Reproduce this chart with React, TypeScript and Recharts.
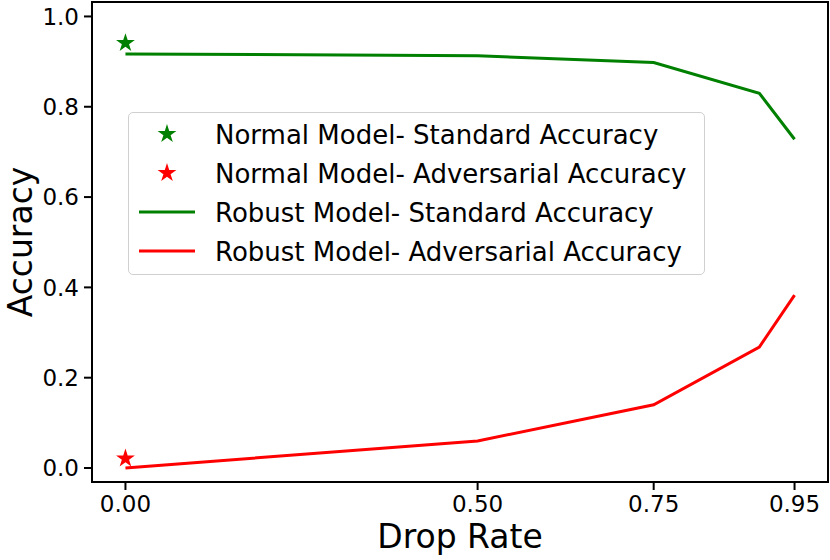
import { ComposedChart, Line, Scatter, XAxis, YAxis, Symbols, ReferenceArea } from 'recharts';

// drop rates shared by both robust-model curves
const dropRates = [0, 0.5, 0.75, 0.9, 0.95];
const robustStandard = [0.917, 0.913, 0.898, 0.83, 0.728];
const robustAdversarial = [0.0, 0.06, 0.14, 0.268, 0.383];

// normal model is a single point at drop rate 0
const normalStandard = [{ x: 0, y: 0.941 }];
const normalAdversarial = [{ x: 0, y: 0.021 }];

const xTicks = [0, 0.5, 0.75, 0.95];
const yTicks = [0, 0.2, 0.4, 0.6, 0.8, 1.0];
const xDomain = [-0.0475, 0.9975];
const yDomain = [-0.031, 1.032];

const legendItems = [
  { label: 'Normal Model- Standard Accuracy', color: '#008000', kind: 'star' },
  { label: 'Normal Model- Adversarial Accuracy', color: '#ff0000', kind: 'star' },
  { label: 'Robust Model- Standard Accuracy', color: '#008000', kind: 'line' },
  { label: 'Robust Model- Adversarial Accuracy', color: '#ff0000', kind: 'line' },
];

const font = 'DejaVu Sans, sans-serif';

const standardData = dropRates.map((x, i) => ({ x, y: robustStandard[i] }));
const adversarialData = dropRates.map((x, i) => ({ x, y: robustAdversarial[i] }));

const StarShape = (props: any) => (
  <Symbols cx={props.cx} cy={props.cy} type="star" size={110} fill={props.fill} />
);

const YLabel = (props: any) => {
  const vb = props.viewBox || {};
  const cy = (vb.y ?? 0) + (vb.height ?? 0) / 2;
  return (
    <text x={20} y={cy} transform={`rotate(-90 20 ${cy})`} textAnchor="middle" dominantBaseline="central"
      fontSize={33} fontFamily={font} fill="#000">
      Accuracy
    </text>
  );
};

function LegendBox() {
  return (
    <div
      style={{
        position: 'absolute',
        left: 128,
        top: 112,
        width: 577,
        height: 163,
        border: '1.5px solid #d0d0d0',
        borderRadius: 5,
        background: 'rgba(255,255,255,0.8)',
        fontFamily: font,
        fontSize: 26,
        color: '#000',
        boxSizing: 'border-box',
        paddingTop: 2,
      }}
    >
      {legendItems.map((it) => (
        <div key={it.label} style={{ display: 'flex', alignItems: 'center', height: 39 }}>
          <svg width={86} height={39} style={{ flex: 'none' }}>
            {it.kind === 'star' ? (
              <Symbols cx={38} cy={19} type="star" size={110} fill={it.color} />
            ) : (
              <line x1={10} x2={66} y1={19} y2={19} stroke={it.color} strokeWidth={3} />
            )}
          </svg>
          <span style={{ whiteSpace: 'nowrap' }}>{it.label}</span>
        </div>
      ))}
    </div>
  );
}

export default function App() {
  return (
    <div style={{ position: 'absolute', left: 0, top: 0, width: 830, height: 560, background: '#fff' }}>
      <ComposedChart width={830} height={560} margin={{ top: 2, right: 2, bottom: 0, left: 0 }}>
        <XAxis
          type="number"
          dataKey="x"
          domain={xDomain}
          ticks={xTicks}
          allowDataOverflow
          tickFormatter={(v: number) => v.toFixed(2)}
          height={78}
          stroke="#000"
          strokeWidth={2}
          tickSize={8}
          tickMargin={6}
          tick={{ fill: '#000', fontSize: 23, fontFamily: font }}
          label={{ value: 'Drop Rate', position: 'insideBottom', offset: 12, fill: '#000', fontSize: 33, fontFamily: font }}
        />
        <YAxis
          type="number"
          domain={yDomain}
          ticks={yTicks}
          allowDataOverflow
          tickFormatter={(v: number) => v.toFixed(1)}
          width={92}
          stroke="#000"
          strokeWidth={2}
          tickSize={8}
          tickMargin={5}
          tick={{ fill: '#000', fontSize: 23, fontFamily: font }}
          label={<YLabel />}
        />
        <ReferenceArea
          x1={xDomain[0]}
          x2={xDomain[1]}
          y1={yDomain[0]}
          y2={yDomain[1]}
          fill="none"
          fillOpacity={0}
          stroke="#000"
          strokeWidth={2}
          strokeOpacity={1}
          ifOverflow="extendDomain"
        />
        <Line data={standardData} dataKey="y" stroke="#008000" strokeWidth={3} dot={false} isAnimationActive={false} />
        <Line data={adversarialData} dataKey="y" stroke="#ff0000" strokeWidth={3} dot={false} isAnimationActive={false} />
        <Scatter data={normalStandard} dataKey="y" fill="#008000" shape={StarShape} isAnimationActive={false} />
        <Scatter data={normalAdversarial} dataKey="y" fill="#ff0000" shape={StarShape} isAnimationActive={false} />
      </ComposedChart>
      <LegendBox />
    </div>
  );
}
